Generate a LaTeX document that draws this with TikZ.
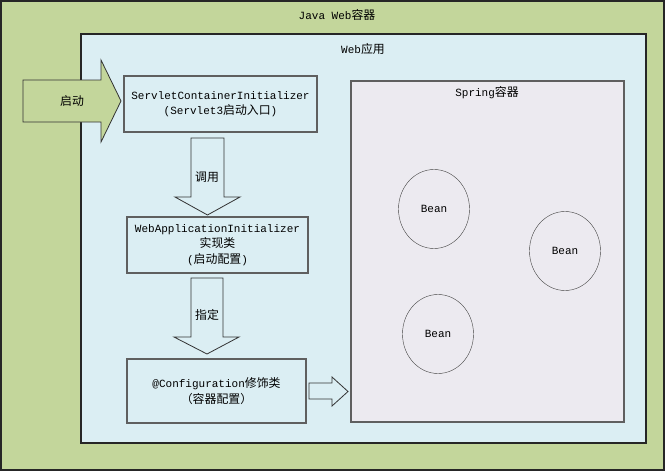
\documentclass[tikz,border=0pt]{standalone}
\usepackage{fontspec}
\setmainfont{Liberation Mono}
\newfontfamily\cjk[Scale=1.08]{Noto Sans CJK SC}
\usetikzlibrary{positioning,shapes.geometric}
\definecolor{webgreen}{HTML}{C3D69B}
\definecolor{appblue}{HTML}{DBEEF3}
\definecolor{springgray}{HTML}{ECEAF0}
\definecolor{edgegray}{HTML}{5F5F5F}
\tikzset{
	box/.style={draw=edgegray,line width=1.3pt,fill=appblue,align=center,
		font=\fontsize{11}{15.5}\selectfont,inner sep=0pt},
	bean/.style={draw=black!75,ellipse,fill=springgray,minimum width=71pt,
		minimum height=79pt,font=\fontsize{11}{14}\selectfont},
	blockarrow/.style={draw=black!80,line width=0.8pt,fill=appblue},
	lbl/.style={font=\fontsize{11}{14}\selectfont}
}
\begin{document}
\begin{tikzpicture}[x=1pt,y=-1pt]
			\useasboundingbox (0,0) rectangle (665,471);
			% containers
			\draw [fill=webgreen, draw=black!85, line width=1.3pt] (1,1) rectangle (664,470);
			\node[lbl] (javaweb) at (337,15) {Java Web{\cjk 容器}};
			\draw [fill=appblue, draw=black!85, line width=1.3pt] (81,34) rectangle (646,443);
			\node[lbl] (webapp) at (363,49) {Web{\cjk 应用}};
			\draw [fill=springgray, draw=edgegray, line width=1.5pt] (351,81) rectangle (624,422);
			\node[lbl] (spring) at (487,93) {Spring{\cjk 容器}};
			
			% start arrow
			\draw [fill=webgreen, draw=black!80, line width=0.8pt] (23,80) -- (101,80) -- (101,60)
			-- (121,101) -- (101,142) -- (101,122) -- (23,122) -- cycle;
			\node[lbl] (start) at (72,101) {\cjk 启动};
			
			% boxes
			\node[box, minimum width=193pt, minimum height=56pt] (sci) at (220.5,104)
			{ServletContainerInitializer\\({Servlet3\cjk 启动入口})};
			\node[box, minimum width=181pt, minimum height=56pt] (wai) at (217.5,245)
			{WebApplicationInitializer\\{\cjk 实现类}\\({\cjk 启动配置})};
			\node[box, minimum width=179pt, minimum height=64pt] (cfg) at (216.5,391)
			{@Configuration{\cjk 修饰类}\\{\cjk （容器配置）}};
			
			% block arrows
			\draw [blockarrow] (191,138) -- (224,138) -- (224,197) -- (240,197)
			-- (207.5,215) -- (175,197) -- (191,197) -- cycle;
			\node[lbl] (call) at (207,177) {\cjk 调用};
			\draw [blockarrow] (191,278) -- (223,278) -- (223,337) -- (239,337)
			-- (207,354) -- (174,337) -- (191,337) -- cycle;
			\node[lbl] (assign) at (207,315) {\cjk 指定};
			\draw [blockarrow] (309,383) -- (332,383) -- (332,377) -- (348,391.5)
			-- (332,406) -- (332,399) -- (309,399) -- cycle;
			
			% beans
			\node[bean] (bean1) at (434,209) {Bean};
			\node[bean] (bean2) at (565,251) {Bean};
			\node[bean] (bean3) at (438,334) {Bean};
\end{tikzpicture}
\end{document}
